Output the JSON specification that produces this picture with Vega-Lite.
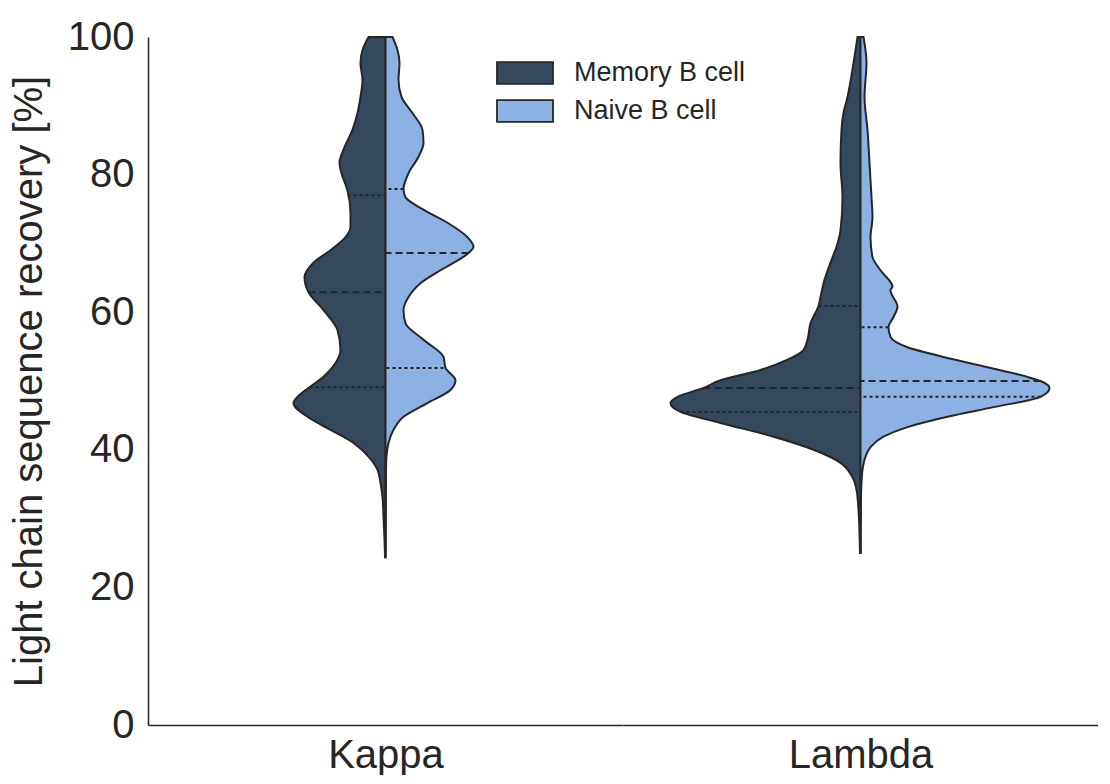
{
  "$schema": "https://vega.github.io/schema/vega-lite/v6.json",
  "autosize": {"type": "pad"},
  "padding": {"left": 9, "top": 17, "right": 0, "bottom": 0},
  "background": "white",
  "config": {
    "view": {"stroke": null},
    "font": "Liberation Sans",
    "concat": {"spacing": 0}
  },
  "datasets": {"violins": [
    {"chain":"Kappa","cell":"Memory B cell","kind":"density","value":24.4,"density":0.005},
    {"chain":"Kappa","cell":"Memory B cell","kind":"density","value":27,"density":0.01},
    {"chain":"Kappa","cell":"Memory B cell","kind":"density","value":30.2,"density":0.02},
    {"chain":"Kappa","cell":"Memory B cell","kind":"density","value":33.1,"density":0.03},
    {"chain":"Kappa","cell":"Memory B cell","kind":"density","value":35.2,"density":0.05},
    {"chain":"Kappa","cell":"Memory B cell","kind":"density","value":37.1,"density":0.08},
    {"chain":"Kappa","cell":"Memory B cell","kind":"density","value":39.0,"density":0.17},
    {"chain":"Kappa","cell":"Memory B cell","kind":"density","value":41.0,"density":0.32},
    {"chain":"Kappa","cell":"Memory B cell","kind":"density","value":42.9,"density":0.55},
    {"chain":"Kappa","cell":"Memory B cell","kind":"density","value":44.8,"density":0.78},
    {"chain":"Kappa","cell":"Memory B cell","kind":"density","value":46.8,"density":0.92},
    {"chain":"Kappa","cell":"Memory B cell","kind":"density","value":47.7,"density":0.88},
    {"chain":"Kappa","cell":"Memory B cell","kind":"density","value":49.1,"density":0.76},
    {"chain":"Kappa","cell":"Memory B cell","kind":"density","value":50.6,"density":0.62},
    {"chain":"Kappa","cell":"Memory B cell","kind":"density","value":52.6,"density":0.50},
    {"chain":"Kappa","cell":"Memory B cell","kind":"density","value":54.5,"density":0.45},
    {"chain":"Kappa","cell":"Memory B cell","kind":"density","value":57.4,"density":0.48},
    {"chain":"Kappa","cell":"Memory B cell","kind":"density","value":60.3,"density":0.62},
    {"chain":"Kappa","cell":"Memory B cell","kind":"density","value":62.9,"density":0.77},
    {"chain":"Kappa","cell":"Memory B cell","kind":"density","value":65.1,"density":0.81},
    {"chain":"Kappa","cell":"Memory B cell","kind":"density","value":67.2,"density":0.72},
    {"chain":"Kappa","cell":"Memory B cell","kind":"density","value":69.0,"density":0.55},
    {"chain":"Kappa","cell":"Memory B cell","kind":"density","value":70.9,"density":0.40},
    {"chain":"Kappa","cell":"Memory B cell","kind":"density","value":72.4,"density":0.35},
    {"chain":"Kappa","cell":"Memory B cell","kind":"density","value":74.4,"density":0.35},
    {"chain":"Kappa","cell":"Memory B cell","kind":"density","value":77.7,"density":0.38},
    {"chain":"Kappa","cell":"Memory B cell","kind":"density","value":80.2,"density":0.44},
    {"chain":"Kappa","cell":"Memory B cell","kind":"density","value":81.7,"density":0.46},
    {"chain":"Kappa","cell":"Memory B cell","kind":"density","value":84.0,"density":0.41},
    {"chain":"Kappa","cell":"Memory B cell","kind":"density","value":86.5,"density":0.33},
    {"chain":"Kappa","cell":"Memory B cell","kind":"density","value":88.95,"density":0.28},
    {"chain":"Kappa","cell":"Memory B cell","kind":"density","value":91.3,"density":0.25},
    {"chain":"Kappa","cell":"Memory B cell","kind":"density","value":93.75,"density":0.23},
    {"chain":"Kappa","cell":"Memory B cell","kind":"density","value":96.2,"density":0.25},
    {"chain":"Kappa","cell":"Memory B cell","kind":"density","value":98.1,"density":0.23},
    {"chain":"Kappa","cell":"Memory B cell","kind":"density","value":100,"density":0.17},

    {"chain":"Kappa","cell":"Naive B cell","kind":"density","value":24.4,"density":0.002},
    {"chain":"Kappa","cell":"Naive B cell","kind":"density","value":30,"density":0.003},
    {"chain":"Kappa","cell":"Naive B cell","kind":"density","value":37.1,"density":0.005},
    {"chain":"Kappa","cell":"Naive B cell","kind":"density","value":39.0,"density":0.01},
    {"chain":"Kappa","cell":"Naive B cell","kind":"density","value":41.0,"density":0.03},
    {"chain":"Kappa","cell":"Naive B cell","kind":"density","value":42.9,"density":0.08},
    {"chain":"Kappa","cell":"Naive B cell","kind":"density","value":44.8,"density":0.18},
    {"chain":"Kappa","cell":"Naive B cell","kind":"density","value":46.8,"density":0.42},
    {"chain":"Kappa","cell":"Naive B cell","kind":"density","value":48.7,"density":0.65},
    {"chain":"Kappa","cell":"Naive B cell","kind":"density","value":50.1,"density":0.70},
    {"chain":"Kappa","cell":"Naive B cell","kind":"density","value":51.9,"density":0.60},
    {"chain":"Kappa","cell":"Naive B cell","kind":"density","value":53.5,"density":0.58},
    {"chain":"Kappa","cell":"Naive B cell","kind":"density","value":56.0,"density":0.38},
    {"chain":"Kappa","cell":"Naive B cell","kind":"density","value":58.4,"density":0.20},
    {"chain":"Kappa","cell":"Naive B cell","kind":"density","value":60.3,"density":0.18},
    {"chain":"Kappa","cell":"Naive B cell","kind":"density","value":62.2,"density":0.23},
    {"chain":"Kappa","cell":"Naive B cell","kind":"density","value":63.2,"density":0.28},
    {"chain":"Kappa","cell":"Naive B cell","kind":"density","value":64.2,"density":0.35},
    {"chain":"Kappa","cell":"Naive B cell","kind":"density","value":66.1,"density":0.55},
    {"chain":"Kappa","cell":"Naive B cell","kind":"density","value":68.6,"density":0.83},
    {"chain":"Kappa","cell":"Naive B cell","kind":"density","value":69.5,"density":0.88},
    {"chain":"Kappa","cell":"Naive B cell","kind":"density","value":70.9,"density":0.82},
    {"chain":"Kappa","cell":"Naive B cell","kind":"density","value":73.0,"density":0.62},
    {"chain":"Kappa","cell":"Naive B cell","kind":"density","value":74.9,"density":0.38},
    {"chain":"Kappa","cell":"Naive B cell","kind":"density","value":76.7,"density":0.20},
    {"chain":"Kappa","cell":"Naive B cell","kind":"density","value":77.9,"density":0.18},
    {"chain":"Kappa","cell":"Naive B cell","kind":"density","value":80.2,"density":0.23},
    {"chain":"Kappa","cell":"Naive B cell","kind":"density","value":82.6,"density":0.33},
    {"chain":"Kappa","cell":"Naive B cell","kind":"density","value":84.6,"density":0.38},
    {"chain":"Kappa","cell":"Naive B cell","kind":"density","value":86.5,"density":0.37},
    {"chain":"Kappa","cell":"Naive B cell","kind":"density","value":88.95,"density":0.27},
    {"chain":"Kappa","cell":"Naive B cell","kind":"density","value":91.3,"density":0.16},
    {"chain":"Kappa","cell":"Naive B cell","kind":"density","value":93.75,"density":0.13},
    {"chain":"Kappa","cell":"Naive B cell","kind":"density","value":96.2,"density":0.14},
    {"chain":"Kappa","cell":"Naive B cell","kind":"density","value":98.1,"density":0.12},
    {"chain":"Kappa","cell":"Naive B cell","kind":"density","value":100,"density":0.07},

    {"chain":"Lambda","cell":"Memory B cell","kind":"density","value":25.0,"density":0.005},
    {"chain":"Lambda","cell":"Memory B cell","kind":"density","value":28,"density":0.01},
    {"chain":"Lambda","cell":"Memory B cell","kind":"density","value":31.25,"density":0.02},
    {"chain":"Lambda","cell":"Memory B cell","kind":"density","value":34.2,"density":0.04},
    {"chain":"Lambda","cell":"Memory B cell","kind":"density","value":36.0,"density":0.08},
    {"chain":"Lambda","cell":"Memory B cell","kind":"density","value":38.1,"density":0.20},
    {"chain":"Lambda","cell":"Memory B cell","kind":"density","value":40.0,"density":0.47},
    {"chain":"Lambda","cell":"Memory B cell","kind":"density","value":41.9,"density":0.87},
    {"chain":"Lambda","cell":"Memory B cell","kind":"density","value":43.9,"density":1.40},
    {"chain":"Lambda","cell":"Memory B cell","kind":"density","value":45.5,"density":1.80},
    {"chain":"Lambda","cell":"Memory B cell","kind":"density","value":46.8,"density":1.90},
    {"chain":"Lambda","cell":"Memory B cell","kind":"density","value":47.7,"density":1.83},
    {"chain":"Lambda","cell":"Memory B cell","kind":"density","value":49.0,"density":1.57},
    {"chain":"Lambda","cell":"Memory B cell","kind":"density","value":50.1,"density":1.40},
    {"chain":"Lambda","cell":"Memory B cell","kind":"density","value":51.6,"density":1.00},
    {"chain":"Lambda","cell":"Memory B cell","kind":"density","value":53.1,"density":0.73},
    {"chain":"Lambda","cell":"Memory B cell","kind":"density","value":54.5,"density":0.57},
    {"chain":"Lambda","cell":"Memory B cell","kind":"density","value":56.0,"density":0.53},
    {"chain":"Lambda","cell":"Memory B cell","kind":"density","value":58.4,"density":0.50},
    {"chain":"Lambda","cell":"Memory B cell","kind":"density","value":60.9,"density":0.42},
    {"chain":"Lambda","cell":"Memory B cell","kind":"density","value":62.2,"density":0.40},
    {"chain":"Lambda","cell":"Memory B cell","kind":"density","value":64.7,"density":0.36},
    {"chain":"Lambda","cell":"Memory B cell","kind":"density","value":67.2,"density":0.30},
    {"chain":"Lambda","cell":"Memory B cell","kind":"density","value":69.5,"density":0.24},
    {"chain":"Lambda","cell":"Memory B cell","kind":"density","value":71.9,"density":0.20},
    {"chain":"Lambda","cell":"Memory B cell","kind":"density","value":76.7,"density":0.18},
    {"chain":"Lambda","cell":"Memory B cell","kind":"density","value":81.7,"density":0.20},
    {"chain":"Lambda","cell":"Memory B cell","kind":"density","value":86.5,"density":0.19},
    {"chain":"Lambda","cell":"Memory B cell","kind":"density","value":88.95,"density":0.17},
    {"chain":"Lambda","cell":"Memory B cell","kind":"density","value":91.3,"density":0.13},
    {"chain":"Lambda","cell":"Memory B cell","kind":"density","value":96.2,"density":0.07},
    {"chain":"Lambda","cell":"Memory B cell","kind":"density","value":100,"density":0.03},

    {"chain":"Lambda","cell":"Naive B cell","kind":"density","value":25.0,"density":0.002},
    {"chain":"Lambda","cell":"Naive B cell","kind":"density","value":33,"density":0.005},
    {"chain":"Lambda","cell":"Naive B cell","kind":"density","value":35.2,"density":0.01},
    {"chain":"Lambda","cell":"Naive B cell","kind":"density","value":37.1,"density":0.02},
    {"chain":"Lambda","cell":"Naive B cell","kind":"density","value":39.0,"density":0.05},
    {"chain":"Lambda","cell":"Naive B cell","kind":"density","value":40.4,"density":0.10},
    {"chain":"Lambda","cell":"Naive B cell","kind":"density","value":41.9,"density":0.23},
    {"chain":"Lambda","cell":"Naive B cell","kind":"density","value":43.3,"density":0.47},
    {"chain":"Lambda","cell":"Naive B cell","kind":"density","value":44.8,"density":0.87},
    {"chain":"Lambda","cell":"Naive B cell","kind":"density","value":46.2,"density":1.33},
    {"chain":"Lambda","cell":"Naive B cell","kind":"density","value":47.7,"density":1.80},
    {"chain":"Lambda","cell":"Naive B cell","kind":"density","value":49.0,"density":1.89},
    {"chain":"Lambda","cell":"Naive B cell","kind":"density","value":50.0,"density":1.80},
    {"chain":"Lambda","cell":"Naive B cell","kind":"density","value":50.6,"density":1.67},
    {"chain":"Lambda","cell":"Naive B cell","kind":"density","value":52.0,"density":1.27},
    {"chain":"Lambda","cell":"Naive B cell","kind":"density","value":53.5,"density":0.83},
    {"chain":"Lambda","cell":"Naive B cell","kind":"density","value":54.9,"density":0.47},
    {"chain":"Lambda","cell":"Naive B cell","kind":"density","value":56.4,"density":0.30},
    {"chain":"Lambda","cell":"Naive B cell","kind":"density","value":57.8,"density":0.28},
    {"chain":"Lambda","cell":"Naive B cell","kind":"density","value":59.3,"density":0.33},
    {"chain":"Lambda","cell":"Naive B cell","kind":"density","value":60.8,"density":0.37},
    {"chain":"Lambda","cell":"Naive B cell","kind":"density","value":63.2,"density":0.30},
    {"chain":"Lambda","cell":"Naive B cell","kind":"density","value":63.7,"density":0.32},
    {"chain":"Lambda","cell":"Naive B cell","kind":"density","value":66.1,"density":0.20},
    {"chain":"Lambda","cell":"Naive B cell","kind":"density","value":68.0,"density":0.12},
    {"chain":"Lambda","cell":"Naive B cell","kind":"density","value":70.9,"density":0.10},
    {"chain":"Lambda","cell":"Naive B cell","kind":"density","value":73.8,"density":0.12},
    {"chain":"Lambda","cell":"Naive B cell","kind":"density","value":76.7,"density":0.11},
    {"chain":"Lambda","cell":"Naive B cell","kind":"density","value":81.7,"density":0.09},
    {"chain":"Lambda","cell":"Naive B cell","kind":"density","value":86.5,"density":0.07},
    {"chain":"Lambda","cell":"Naive B cell","kind":"density","value":91.3,"density":0.04},
    {"chain":"Lambda","cell":"Naive B cell","kind":"density","value":96.2,"density":0.06},
    {"chain":"Lambda","cell":"Naive B cell","kind":"density","value":100,"density":0.03},

    {"chain":"Kappa","cell":"Memory B cell","kind":"quartile","value":77.0,"density":0.38},
    {"chain":"Kappa","cell":"Memory B cell","kind":"median","value":62.9,"density":0.77},
    {"chain":"Kappa","cell":"Memory B cell","kind":"quartile","value":49.1,"density":0.76},
    {"chain":"Kappa","cell":"Naive B cell","kind":"quartile","value":77.9,"density":0.18},
    {"chain":"Kappa","cell":"Naive B cell","kind":"median","value":68.6,"density":0.83},
    {"chain":"Kappa","cell":"Naive B cell","kind":"quartile","value":51.9,"density":0.58},
    {"chain":"Lambda","cell":"Memory B cell","kind":"quartile","value":60.9,"density":0.42},
    {"chain":"Lambda","cell":"Memory B cell","kind":"median","value":49.0,"density":1.57},
    {"chain":"Lambda","cell":"Memory B cell","kind":"quartile","value":45.5,"density":1.80},
    {"chain":"Lambda","cell":"Naive B cell","kind":"quartile","value":57.8,"density":0.28},
    {"chain":"Lambda","cell":"Naive B cell","kind":"median","value":50.0,"density":1.80},
    {"chain":"Lambda","cell":"Naive B cell","kind":"quartile","value":47.7,"density":1.80}
  ]},
  "data": {"name": "violins"},
  "spacing": 0,
  "hconcat": [
    {
      "width": 475,
      "height": 688,
      "transform": [{"filter": "datum.chain === 'Kappa'"}],
      "layer": [
        {
          "transform": [{"filter": "datum.kind === 'density' && datum.cell === 'Memory B cell'"}],
          "mark": {"type": "area", "orient": "horizontal", "interpolate": "monotone", "stroke": "#262626", "strokeWidth": 2, "fillOpacity": 1},
          "encoding": {
            "y": {"field": "value", "type": "quantitative", "scale": {"domain": [0, 100], "nice": false}, "axis": {"values": [0, 20, 40, 60, 80, 100], "title": "Light chain sequence recovery [%]", "titleFontSize": 40, "titleFontWeight": "normal", "titleColor": "#262626", "titleFont": "Liberation Sans", "titlePadding": 18, "labelFontSize": 40, "labelColor": "#262626", "labelFont": "Liberation Sans", "labelPadding": 14, "ticks": false, "grid": false, "domainColor": "#262626", "domainWidth": 1.5}},
            "x": {"field": "density", "type": "quantitative", "scale": {"domain": [-2.375, 2.375], "reverse": true, "nice": false, "zero": false}, "axis": null},
            "x2": {"datum": 0},
            "color": {"field": "cell", "type": "nominal", "scale": {"domain": ["Memory B cell", "Naive B cell"], "range": ["#34495E", "#8EB1E3"]}, "legend": {"title": null, "orient": "none", "legendX": 362, "legendY": 21, "padding": 0, "symbolType": "M-2,-0.78H2V0.78H-2Z", "symbolSize": 784, "symbolStrokeColor": "#262626", "symbolStrokeWidth": 1.8, "symbolOpacity": 1, "labelFontSize": 27, "labelFont": "Liberation Sans", "labelColor": "#262626", "labelOffset": 34, "labelLimit": 400, "rowPadding": 8}}
          }
        },
        {
          "transform": [{"filter": "datum.kind === 'density' && datum.cell === 'Naive B cell'"}],
          "mark": {"type": "area", "orient": "horizontal", "interpolate": "monotone", "stroke": "#262626", "strokeWidth": 2, "fillOpacity": 1},
          "encoding": {
            "y": {"field": "value", "type": "quantitative"},
            "x": {"field": "density", "type": "quantitative", "scale": {"domain": [-2.375, 2.375], "nice": false, "zero": false}, "axis": {"title": "Kappa", "titleFontSize": 40, "titleFontWeight": "normal", "titleFont": "Liberation Sans", "titleColor": "#262626", "titlePadding": 10, "labels": false, "ticks": false, "grid": false, "domain": true, "domainColor": "#262626", "domainWidth": 1.5}},
            "x2": {"datum": 0},
            "color": {"field": "cell", "type": "nominal"}
          }
        },
        {
          "transform": [{"filter": "datum.kind !== 'density' && datum.cell === 'Memory B cell'"}],
          "mark": {"type": "rule", "color": "#262626", "strokeWidth": 2},
          "encoding": {
            "y": {"field": "value", "type": "quantitative"},
            "x": {"field": "density", "type": "quantitative", "scale": {"domain": [-2.375, 2.375], "reverse": true, "nice": false, "zero": false}, "axis": null},
            "x2": {"datum": 0},
            "strokeDash": {"field": "kind", "type": "nominal", "scale": {"domain": ["median", "quartile"], "range": [[7, 4], [3, 3]]}, "legend": null}
          }
        },
        {
          "transform": [{"filter": "datum.kind !== 'density' && datum.cell === 'Naive B cell'"}],
          "mark": {"type": "rule", "color": "#262626", "strokeWidth": 2},
          "encoding": {
            "y": {"field": "value", "type": "quantitative"},
            "x": {"field": "density", "type": "quantitative", "scale": {"domain": [-2.375, 2.375], "nice": false, "zero": false}, "axis": null},
            "x2": {"datum": 0},
            "strokeDash": {"field": "kind", "type": "nominal", "legend": null}
          }
        }
      ],
      "resolve": {"scale": {"x": "independent"}}
    },
    {
      "width": 475,
      "height": 688,
      "transform": [{"filter": "datum.chain === 'Lambda'"}],
      "layer": [
        {
          "transform": [{"filter": "datum.kind === 'density' && datum.cell === 'Memory B cell'"}],
          "mark": {"type": "area", "orient": "horizontal", "interpolate": "monotone", "stroke": "#262626", "strokeWidth": 2, "fillOpacity": 1},
          "encoding": {
            "y": {"field": "value", "type": "quantitative", "scale": {"domain": [0, 100], "nice": false}, "axis": null},
            "x": {"field": "density", "type": "quantitative", "scale": {"domain": [-2.375, 2.375], "reverse": true, "nice": false, "zero": false}, "axis": null},
            "x2": {"datum": 0},
            "color": {"field": "cell", "type": "nominal"}
          }
        },
        {
          "transform": [{"filter": "datum.kind === 'density' && datum.cell === 'Naive B cell'"}],
          "mark": {"type": "area", "orient": "horizontal", "interpolate": "monotone", "stroke": "#262626", "strokeWidth": 2, "fillOpacity": 1},
          "encoding": {
            "y": {"field": "value", "type": "quantitative"},
            "x": {"field": "density", "type": "quantitative", "scale": {"domain": [-2.375, 2.375], "nice": false, "zero": false}, "axis": {"title": "Lambda", "titleFontSize": 40, "titleFontWeight": "normal", "titleFont": "Liberation Sans", "titleColor": "#262626", "titlePadding": 10, "labels": false, "ticks": false, "grid": false, "domain": true, "domainColor": "#262626", "domainWidth": 1.5}},
            "x2": {"datum": 0},
            "color": {"field": "cell", "type": "nominal"}
          }
        },
        {
          "transform": [{"filter": "datum.kind !== 'density' && datum.cell === 'Memory B cell'"}],
          "mark": {"type": "rule", "color": "#262626", "strokeWidth": 2},
          "encoding": {
            "y": {"field": "value", "type": "quantitative"},
            "x": {"field": "density", "type": "quantitative", "scale": {"domain": [-2.375, 2.375], "reverse": true, "nice": false, "zero": false}, "axis": null},
            "x2": {"datum": 0},
            "strokeDash": {"field": "kind", "type": "nominal", "scale": {"domain": ["median", "quartile"], "range": [[7, 4], [3, 3]]}, "legend": null}
          }
        },
        {
          "transform": [{"filter": "datum.kind !== 'density' && datum.cell === 'Naive B cell'"}],
          "mark": {"type": "rule", "color": "#262626", "strokeWidth": 2},
          "encoding": {
            "y": {"field": "value", "type": "quantitative"},
            "x": {"field": "density", "type": "quantitative", "scale": {"domain": [-2.375, 2.375], "nice": false, "zero": false}, "axis": null},
            "x2": {"datum": 0},
            "strokeDash": {"field": "kind", "type": "nominal", "legend": null}
          }
        }
      ],
      "resolve": {"scale": {"x": "independent"}}
    }
  ]
}
